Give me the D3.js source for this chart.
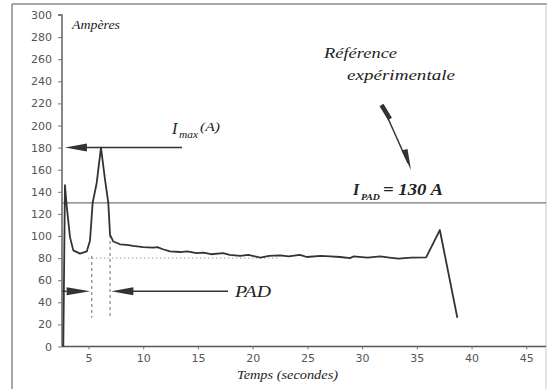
<!DOCTYPE html>
<html>
<head>
<meta charset="utf-8">
<script src="https://cdn.jsdelivr.net/npm/d3@7"></script>
<style>
  html, body { margin: 0; padding: 0; background: #fff; }
  svg { display: block; }
  .tick text { font-family: "DejaVu Sans", sans-serif; font-size: 11px; fill: #555; }
  .it { font-family: "Liberation Serif", serif; font-style: italic; fill: #222; }
</style>
</head>
<body>
<svg id="chart" width="547" height="389"></svg>
<script>
// Current trace: time (s) and current (A)
const times = [2.7, 2.85, 3.0, 3.31, 3.61, 4.22, 4.84, 5.14, 5.38, 5.75, 6.14, 6.51, 6.81, 6.97, 7.27, 7.88,
  8.5, 9.07, 10.0, 10.9, 11.3, 11.8, 12.45, 13.4, 14.0, 14.9, 15.5, 16.2, 17.3, 17.9, 18.85, 19.6,
  20.7, 21.5, 22.5, 23.3, 24.3, 24.95, 26.2, 27.1, 28.0, 28.9, 29.2, 30.5, 31.65, 32.5, 33.3, 34.5,
  35.85, 37.1, 38.7];
const amps = [0, 146, 128, 99, 87, 84, 86, 96, 130, 148, 180, 151, 130, 101, 95, 92.5,
  92, 91, 90, 89.5, 90, 88, 86, 85.5, 86, 84.5, 85, 83.5, 84.5, 83, 82, 83,
  80.5, 82, 82.5, 81.5, 83, 81, 82, 81.5, 81, 80, 81.5, 80.5, 81.5, 80.5, 79.5, 80.5,
  80.7, 105.4, 26];

const xTicks = [5, 10, 15, 20, 25, 30, 35, 40, 45];
const yTicks = [0, 20, 40, 60, 80, 100, 120, 140, 160, 180, 200, 220, 240, 260, 280, 300];

// Annotation values
const iPad = 130;          // reference current
const iMax = 180;          // peak current
const plateau = 80;        // dotted plateau level
const padLevel = 50;       // level of the PAD arrows
const padStart = 5.3, padEnd = 6.97;
const dashBottom = 26;

const svg = d3.select("#chart");
const x = d3.scaleLinear().domain([2.58, 46.8]).range([62, 546]);
const y = d3.scaleLinear().domain([0, 300]).range([346.5, 15]);

// page frame
const frame = svg.append("g").attr("stroke", "#8a8a8a").attr("stroke-width", 1.5).attr("fill", "none");
frame.append("line").attr("x1", 12).attr("y1", 4).attr("x2", 12).attr("y2", 389);
frame.append("line").attr("x1", 12).attr("y1", 4).attr("x2", 547).attr("y2", 4);
frame.append("line").attr("x1", 546).attr("y1", 4).attr("x2", 546).attr("y2", 389).attr("stroke", "#c8c8c8").attr("stroke-width", 1);

// axes
const yAxis = svg.append("g").attr("transform", "translate(62,0)")
  .call(d3.axisLeft(y).tickValues(yTicks).tickSize(4).tickPadding(6));
const xAxis = svg.append("g").attr("transform", "translate(0,346.5)")
  .call(d3.axisBottom(x).tickValues(xTicks).tickSize(3).tickPadding(5));
[yAxis, xAxis].forEach(a => {
  a.select(".domain").attr("stroke", "#555").attr("stroke-width", 1.4);
  a.selectAll(".tick line").attr("stroke", "#777");
});
yAxis.select(".domain").attr("d", `M-4,${y(300)}H0V${y(0)}`);
xAxis.select(".domain").attr("d", `M${x.range()[0]},0H${x.range()[1]}`);

// reference level line
svg.append("line").attr("x1", x.range()[0]).attr("x2", x.range()[1])
  .attr("y1", y(iPad)).attr("y2", y(iPad)).attr("stroke", "#777").attr("stroke-width", 1.3);

// dotted plateau line
svg.append("line").attr("x1", x(4.95)).attr("x2", x(22.5))
  .attr("y1", y(plateau)).attr("y2", y(plateau))
  .attr("stroke", "#8aa0c0").attr("stroke-width", 1).attr("stroke-dasharray", "1.5,2.5");

// dashed verticals bounding the PAD interval
[[padStart, plateau + 2], [padEnd, 101]].forEach(([t, top]) => {
  svg.append("line").attr("x1", x(t)).attr("x2", x(t))
    .attr("y1", y(top)).attr("y2", y(dashBottom))
    .attr("stroke", "#888").attr("stroke-width", 1.2).attr("stroke-dasharray", "3,3");
});

// current trace
const line = d3.line().x((d, i) => x(times[i])).y(d => y(d));
svg.append("path").datum(amps).attr("d", line)
  .attr("fill", "none").attr("stroke", "#333").attr("stroke-width", 1.8).attr("stroke-linejoin", "round");

// horizontal arrow helper: tip at (tx, ty), base at bx
function arrowHead(tx, ty, bx, half) {
  svg.append("path")
    .attr("d", `M${tx},${ty}L${bx},${ty - half}L${bx},${ty + half}Z`)
    .attr("fill", "#333");
}

// I max arrow
svg.append("line").attr("x1", x(4.5)).attr("x2", x(13.55)).attr("y1", y(iMax)).attr("y2", y(iMax))
  .attr("stroke", "#333").attr("stroke-width", 1.5);
arrowHead(x(2.85), y(iMax), x(4.86), 4);

// PAD arrows
svg.append("line").attr("x1", x(2.58)).attr("x2", x(3.0)).attr("y1", y(padLevel)).attr("y2", y(padLevel))
  .attr("stroke", "#333").attr("stroke-width", 1.5);
arrowHead(x(padStart - 0.15), y(padLevel), x(3.0), 4);
svg.append("line").attr("x1", x(8.5)).attr("x2", x(17.75)).attr("y1", y(padLevel)).attr("y2", y(padLevel))
  .attr("stroke", "#333").attr("stroke-width", 1.5);
arrowHead(x(padEnd + 0.1), y(padLevel), x(9.1), 4);

// pointer from the "Référence expérimentale" label
svg.append("line").attr("x1", 382).attr("y1", 105).attr("x2", 408).attr("y2", 163)
  .attr("stroke", "#333").attr("stroke-width", 1.5);
svg.append("line").attr("x1", 381.5).attr("y1", 105).attr("x2", 390).attr("y2", 119)
  .attr("stroke", "#333").attr("stroke-width", 4.5);
svg.append("path").attr("d", "M411,170L401.5,150.5L407.5,149Z").attr("fill", "#333");

// labels
function label(txt, px, py, size, len, weight) {
  const t = svg.append("text").attr("class", "it").attr("x", px).attr("y", py)
    .attr("font-size", size).text(txt);
  if (len) t.attr("textLength", len).attr("lengthAdjust", "spacingAndGlyphs");
  if (weight) t.attr("font-weight", weight);
  return t;
}
label("Ampères", 72, 29, 12, 48);
label("I", 172, 134, 16);
label("max", 179, 138, 10, 19);
label("(A)", 200, 131, 12, 20);
label("Référence", 324, 58, 15, 73);
label("expérimentale", 347, 80, 15, 108);
label("I", 353, 195, 16, null, "bold");
label("PAD", 361, 200, 9, 19, "bold");
label(`= ${iPad} A`, 383, 195, 16, 60, "bold");
label("PAD", 235, 297, 16, 36);
label("Temps (secondes)", 237, 379, 13, 101);
</script>
</body>
</html>
